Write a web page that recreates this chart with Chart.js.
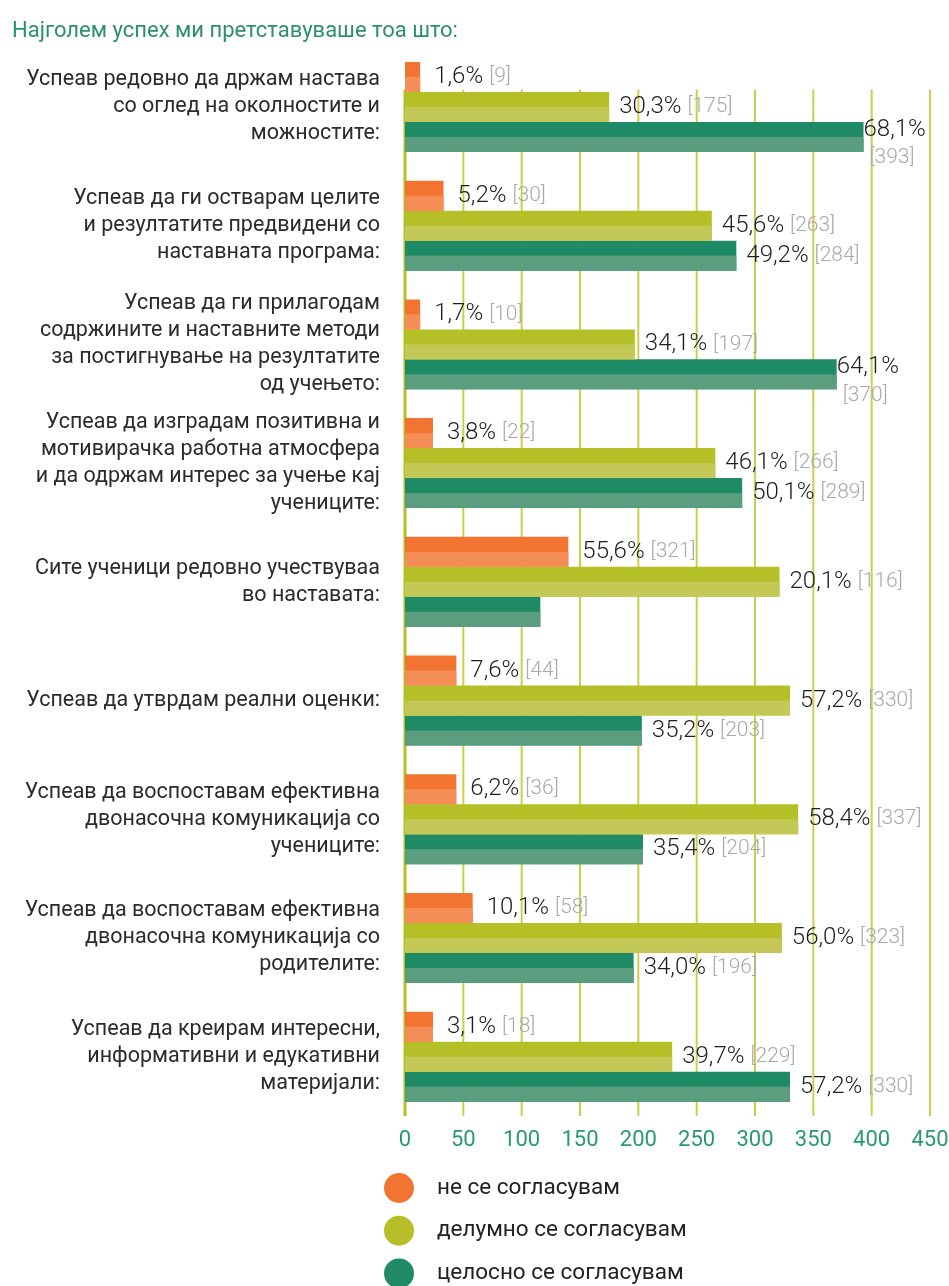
<!DOCTYPE html>
<html>
<head>
<meta charset="utf-8">
<script src="https://cdn.jsdelivr.net/npm/chart.js@4.4.1/dist/chart.umd.min.js"></script>
<style>
  html, body { margin: 0; padding: 0; background: #ffffff; }
  #wrap { position: relative; width: 949px; height: 1286px; }
  canvas { display: block; }
</style>
</head>
<body>
<div id="wrap"><canvas id="c" width="949" height="1286"></canvas></div>
<script>
// ---- data ----
const titleText = 'Најголем успех ми претставуваше тоа што:';
const categories = [
  ['Успеав редовно да држам настава', 'со оглед на околностите и', 'можностите:'],
  ['Успеав да ги остварам целите', 'и резултатите предвидени со', 'наставната програма:'],
  ['Успеав да ги прилагодам', 'содржините и наставните методи', 'за постигнување на резултатите', 'од учењето:'],
  ['Успеав да изградам позитивна и', 'мотивирачка работна атмосфера', 'и да одржам интерес за учење кај', 'учениците:'],
  ['Сите ученици редовно учествуваа', 'во наставата:'],
  ['Успеав да утврдам реални оценки:'],
  ['Успеав да воспоставам ефективна', 'двонасочна комуникација со', 'учениците:'],
  ['Успеав да воспоставам ефективна', 'двонасочна комуникација со', 'родителите:'],
  ['Успеав да креирам интересни,', 'информативни и едукативни', 'материјали:']
];
const seriesNames = ['не се согласувам', 'делумно се согласувам', 'целосно се согласувам'];

// bar lengths as drawn
const disagreeValues = [13, 33, 13, 24, 140, 44, 44, 58, 24];
const partlyValues   = [175, 263, 197, 266, 321, 330, 337, 323, 229];
const fullyValues    = [393, 284, 370, 289, 116, 203, 204, 196, 330];

// value labels as printed
const disagreePct = ['1,6%', '5,2%', '1,7%', '3,8%', '55,6%', '7,6%', '6,2%', '10,1%', '3,1%'];
const disagreeCnt = ['[9]', '[30]', '[10]', '[22]', '[321]', '[44]', '[36]', '[58]', '[18]'];
const partlyPct   = ['30,3%', '45,6%', '34,1%', '46,1%', '20,1%', '57,2%', '58,4%', '56,0%', '39,7%'];
const partlyCnt   = ['[175]', '[263]', '[197]', '[266]', '[116]', '[330]', '[337]', '[323]', '[229]'];
const fullyPct    = ['68,1%', '49,2%', '64,1%', '50,1%', null, '35,2%', '35,4%', '34,0%', '57,2%'];
const fullyCnt    = ['[393]', '[284]', '[370]', '[289]', null, '[203]', '[204]', '[196]', '[330]'];

const xTicks = [0, 50, 100, 150, 200, 250, 300, 350, 400, 450];

// ---- styles ----
const darkColors  = ['#F37430', '#B5BF26', '#1E8B66'];
const lightColors = ['#F58D57', '#C3C857', '#5A9E7F'];
const legendColors = ['#F37430', '#B7BE2A', '#1F8A66'];
const FONT = 'Roboto, "Noto Sans", sans-serif';

const pctLabels = [disagreePct, partlyPct, fullyPct];
const cntLabels = [disagreeCnt, partlyCnt, fullyCnt];
const labelOffsets = [14, 10, 10];

const gridPlugin = {
  id: 'customGrid',
  beforeDatasetsDraw(chart) {
    const ctx = chart.ctx;
    const xs = chart.scales.x;
    const area = chart.chartArea;
    const top = area.top + 42;
    const bottom = area.bottom;
    ctx.save();
    xs.ticks.forEach(t => {
      const px = xs.getPixelForValue(t.value);
      ctx.beginPath();
      if (t.value === 0) { ctx.lineWidth = 3; ctx.strokeStyle = '#B5BF25'; }
      else { ctx.lineWidth = 2; ctx.strokeStyle = '#CBCF4A'; }
      ctx.moveTo(px, top);
      ctx.lineTo(px, bottom);
      ctx.stroke();
    });
    ctx.restore();
  }
};

const twoTonePlugin = {
  id: 'twoTone',
  afterDatasetDraw(chart, args) {
    const i = args.index;
    const meta = args.meta;
    const ctx = chart.ctx;
    ctx.save();
    ctx.fillStyle = lightColors[i];
    meta.data.forEach(el => {
      const p = el.getProps(['x', 'y', 'base', 'height'], true);
      const left = Math.min(p.base, p.x);
      const w = Math.abs(p.x - p.base);
      ctx.fillRect(left, p.y, w, p.height / 2);
    });
    ctx.restore();
  }
};

const PCT_FONT = '300 24px ' + FONT;
const CNT_FONT = '300 21px ' + FONT;

const valueLabelPlugin = {
  id: 'valueLabels',
  afterDatasetsDraw(chart) {
    const ctx = chart.ctx;
    ctx.save();
    ctx.textBaseline = 'middle';
    chart.data.datasets.forEach((ds, i) => {
      const meta = chart.getDatasetMeta(i);
      meta.data.forEach((el, j) => {
        const pct = pctLabels[i][j];
        const cnt = cntLabels[i][j];
        if (!pct) return;
        const p = el.getProps(['x', 'y'], true);
        let x = p.x + labelOffsets[i];
        ctx.font = PCT_FONT;
        const wp = ctx.measureText(pct).width;
        ctx.font = CNT_FONT;
        const wc = ctx.measureText(cnt).width;
        const fits = x + wp + 6 + wc <= chart.width - 2;
        if (fits) {
          ctx.font = PCT_FONT;
          ctx.fillStyle = '#1e1e1e';
          ctx.fillText(pct, x, p.y);
          ctx.font = CNT_FONT;
          ctx.fillStyle = '#a9a9a9';
          ctx.fillText(cnt, x + wp + 6, p.y);
        } else {
          x = p.x;
          ctx.font = PCT_FONT;
          ctx.fillStyle = '#1e1e1e';
          ctx.fillText(pct, x, p.y - 7);
          ctx.font = CNT_FONT;
          ctx.fillStyle = '#a9a9a9';
          ctx.fillText(cnt, x + 6, p.y + 21);
        }
      });
    });
    ctx.restore();
  }
};

const legendPlugin = {
  id: 'columnLegend',
  afterDraw(chart) {
    const ctx = chart.ctx;
    const x0 = chart.scales.y.right - 6;
    const y0 = chart.chartArea.bottom + 72;
    ctx.save();
    ctx.textBaseline = 'middle';
    seriesNames.forEach((name, i) => {
      const cy = y0 + i * 42.7;
      ctx.beginPath();
      ctx.fillStyle = legendColors[i];
      ctx.arc(x0, cy, 15, 0, Math.PI * 2);
      ctx.fill();
      ctx.font = '22.5px ' + FONT;
      ctx.fillStyle = '#222222';
      ctx.fillText(name, x0 + 38, cy);
    });
    ctx.restore();
  }
};

const datasetValues = [disagreeValues, partlyValues, fullyValues];

new Chart(document.getElementById('c'), {
  type: 'bar',
  data: {
    labels: categories,
    datasets: seriesNames.map((name, i) => ({
      label: name,
      data: datasetValues[i],
      backgroundColor: darkColors[i],
      borderWidth: 0,
      barPercentage: 1.0,
      categoryPercentage: 0.758
    }))
  },
  options: {
    indexAxis: 'y',
    responsive: false,
    animation: false,
    devicePixelRatio: 1,
    layout: { padding: { top: 0, left: 12, right: 19, bottom: 0 } },
    plugins: {
      legend: { display: false },
      tooltip: { enabled: false },
      title: {
        display: true,
        text: titleText,
        align: 'start',
        color: '#2A9168',
        font: { family: FONT, size: 22, weight: '400', lineHeight: 1.2 },
        padding: { top: 18, bottom: 3.2 }
      }
    },
    scales: {
      x: {
        type: 'linear',
        min: 0,
        max: 450,
        afterBuildTicks(scale) { scale.ticks = xTicks.map(v => ({ value: v })); },
        grid: { display: false, drawTicks: false },
        border: { display: false },
        ticks: {
          color: '#2A9A6E',
          font: { family: FONT, size: 22, weight: '400' },
          padding: 11,
          maxRotation: 0,
          autoSkip: false
        },
        afterFit(scale) {
          scale.height = 170;
          scale.paddingLeft = 0; scale.paddingRight = 0;
          scale.paddingTop = 0; scale.paddingBottom = 0;
        }
      },
      y: {
        grid: { display: false, drawTicks: false },
        border: { display: false },
        ticks: {
          color: '#2b2b2b',
          font: { family: FONT, size: 21.5, weight: '400', lineHeight: 1.26 },
          padding: 25,
          autoSkip: false
        },
        afterFit(scale) {
          scale.width = 393;
          scale.paddingTop = 0; scale.paddingBottom = 0;
          scale.paddingLeft = 0; scale.paddingRight = 0;
        }
      }
    }
  },
  plugins: [gridPlugin, twoTonePlugin, valueLabelPlugin, legendPlugin]
});
</script>
</body>
</html>
